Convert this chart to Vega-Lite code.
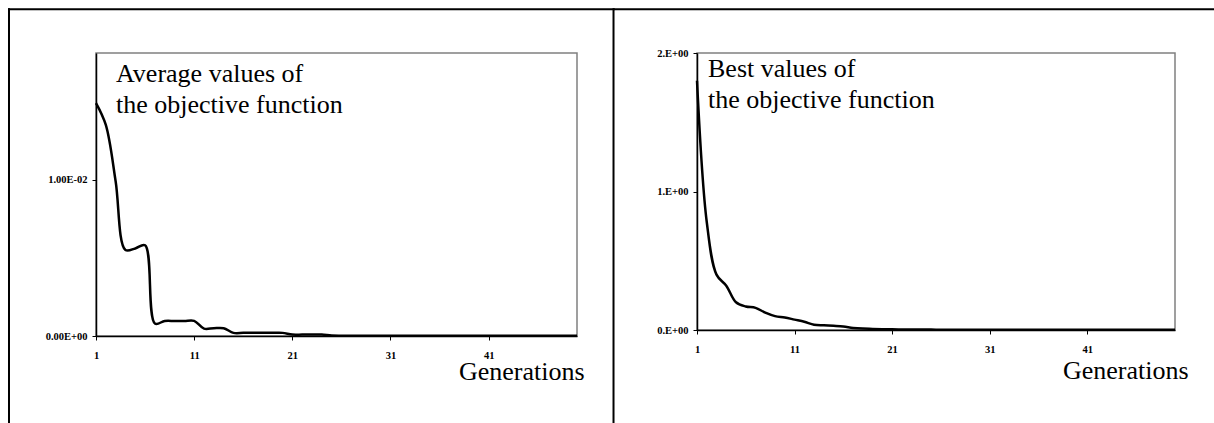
{
  "$schema": "https://vega.github.io/schema/vega-lite/v6.json",
  "padding": {"left": 6, "top": 7, "right": 0, "bottom": 0},
  "background": "white",
  "spacing": -5,
  "config": {
    "font": "Liberation Serif",
    "view": {"stroke": "#808080", "strokeWidth": 1.5},
    "text": {"font": "Liberation Serif"},
    "axis": {
      "labelFont": "Liberation Serif",
      "labelFontWeight": "bold",
      "labelFontSize": 10.5,
      "labelColor": "black",
      "titleFont": "Liberation Serif",
      "domainColor": "black",
      "domainWidth": 1.5,
      "tickColor": "black",
      "tickSize": 4,
      "grid": false,
      "labelPadding": 5
    }
  },
  "datasets": {
    "ga": [
      {"g": 1, "avg": 0.0149, "best": 1.80},
      {"g": 2, "avg": 0.0135, "best": 0.78},
      {"g": 3, "avg": 0.0099, "best": 0.40},
      {"g": 4, "avg": 0.0055, "best": 0.32},
      {"g": 5, "avg": 0.0056, "best": 0.20},
      {"g": 6, "avg": 0.0058, "best": 0.17},
      {"g": 7, "avg": 0.0008, "best": 0.16},
      {"g": 8, "avg": 0.00096, "best": 0.125},
      {"g": 9, "avg": 0.00096, "best": 0.10},
      {"g": 10, "avg": 0.00096, "best": 0.09},
      {"g": 11, "avg": 0.00097, "best": 0.075},
      {"g": 12, "avg": 0.00047, "best": 0.06},
      {"g": 13, "avg": 0.0005, "best": 0.038},
      {"g": 14, "avg": 0.0005, "best": 0.034},
      {"g": 15, "avg": 0.0002, "best": 0.03},
      {"g": 16, "avg": 0.0002, "best": 0.025},
      {"g": 17, "avg": 0.0002, "best": 0.015},
      {"g": 18, "avg": 0.0002, "best": 0.01},
      {"g": 19, "avg": 0.0002, "best": 0.008},
      {"g": 20, "avg": 0.0002, "best": 0.006},
      {"g": 21, "avg": 0.00009, "best": 0.005},
      {"g": 22, "avg": 0.00009, "best": 0.004},
      {"g": 23, "avg": 0.00009, "best": 0.004},
      {"g": 24, "avg": 0.00009, "best": 0.003},
      {"g": 25, "avg": 0.00003, "best": 0.003},
      {"g": 26, "avg": 0.00002, "best": 0.002},
      {"g": 27, "avg": 0.00002, "best": 0.002},
      {"g": 28, "avg": 0.00002, "best": 0.002},
      {"g": 29, "avg": 0.00002, "best": 0.002},
      {"g": 30, "avg": 0.00002, "best": 0.002},
      {"g": 31, "avg": 0.00002, "best": 0.002},
      {"g": 32, "avg": 0.00002, "best": 0.002},
      {"g": 33, "avg": 0.00002, "best": 0.002},
      {"g": 34, "avg": 0.00002, "best": 0.002},
      {"g": 35, "avg": 0.00002, "best": 0.002},
      {"g": 36, "avg": 0.00001, "best": 0.002},
      {"g": 37, "avg": 0.00001, "best": 0.002},
      {"g": 38, "avg": 0.00001, "best": 0.002},
      {"g": 39, "avg": 0.00001, "best": 0.002},
      {"g": 40, "avg": 0.00001, "best": 0.002},
      {"g": 41, "avg": 0.00001, "best": 0.001},
      {"g": 42, "avg": 0.00001, "best": 0.001},
      {"g": 43, "avg": 0.00001, "best": 0.001},
      {"g": 44, "avg": 0.00001, "best": 0.001},
      {"g": 45, "avg": 0.00001, "best": 0.001},
      {"g": 46, "avg": 0.00001, "best": 0.001},
      {"g": 47, "avg": 0.00001, "best": 0.001},
      {"g": 48, "avg": 0.00001, "best": 0.001},
      {"g": 49, "avg": 0.00001, "best": 0.001},
      {"g": 50, "avg": 0.00001, "best": 0.001}
    ]
  },
  "hconcat": [
    {
      "width": 481,
      "height": 283,
      "layer": [
        {
          "data": {"name": "ga"},
          "mark": {"type": "line", "interpolate": "catmull-rom", "color": "black", "strokeWidth": 2.5},
          "encoding": {
            "x": {
              "field": "g", "type": "quantitative",
              "scale": {"domain": [1, 50], "nice": false, "zero": false},
              "axis": {
                "values": [1, 11, 21, 31, 41],
                "labelFont": "Liberation Serif",
                "labelPadding": 10,
                "labelFlush": false,
                "labelOverlap": false,
                "title": "Generations",
                "titleFont": "Liberation Serif",
                "titleFontSize": 26,
                "titleFontWeight": "normal",
                "titleColor": "black",
                "titleAlign": "right",
                "titleBaseline": "alphabetic",
                "titleX": 488,
                "titleY": 43
              }
            },
            "y": {
              "field": "avg", "type": "quantitative",
              "scale": {"domain": [0, 0.0181], "nice": false},
              "axis": {
                "values": [0, 0.01],
                "labelFont": "Liberation Serif",
                "title": null,
                "labelExpr": "datum.value == 0 ? '0.00E+00' : '1.00E-02'"
              }
            }
          }
        },
        {
          "data": {"values": [{"label": "Average values of\nthe objective function"}]},
          "mark": {"type": "text", "font": "Liberation Serif", "fontSize": 26, "align": "left", "baseline": "alphabetic", "lineHeight": 31, "lineBreak": "\n", "color": "black"},
          "encoding": {
            "x": {"datum": 3.04},
            "y": {"datum": 0.01623},
            "text": {"field": "label"}
          }
        },
        {
          "data": {"values": [{}]},
          "mark": {"type": "rule", "color": "black", "strokeWidth": 2, "strokeCap": "square"},
          "encoding": {
            "x": {"datum": -7.863},
            "x2": {"datum": 53.72},
            "y": {"datum": 0.020895}
          }
        },
        {
          "data": {"values": [{}]},
          "mark": {"type": "rule", "color": "black", "strokeWidth": 2, "strokeCap": "square"},
          "encoding": {
            "x": {"datum": -7.863},
            "y": {"datum": 0.020895},
            "y2": {"datum": -0.01}
          }
        },
        {
          "data": {"values": [{}]},
          "mark": {"type": "rule", "color": "black", "strokeWidth": 2, "strokeCap": "square"},
          "encoding": {
            "x": {"datum": 53.72},
            "y": {"datum": 0.020895},
            "y2": {"datum": -0.01}
          }
        }
      ]
    },
    {
      "width": 478,
      "height": 277,
      "layer": [
        {
          "data": {"name": "ga"},
          "mark": {"type": "line", "interpolate": "catmull-rom", "color": "black", "strokeWidth": 2.5},
          "encoding": {
            "x": {
              "field": "g", "type": "quantitative",
              "scale": {"domain": [1, 50], "nice": false, "zero": false},
              "axis": {
                "values": [1, 11, 21, 31, 41],
                "labelFont": "Liberation Serif",
                "labelPadding": 10,
                "labelFlush": false,
                "labelOverlap": false,
                "title": "Generations",
                "titleFont": "Liberation Serif",
                "titleFontSize": 26,
                "titleFontWeight": "normal",
                "titleColor": "black",
                "titleAlign": "right",
                "titleBaseline": "alphabetic",
                "titleX": 491,
                "titleY": 48.5
              }
            },
            "y": {
              "field": "best", "type": "quantitative",
              "scale": {"domain": [0, 2], "nice": false},
              "axis": {
                "values": [0, 1, 2],
                "labelFont": "Liberation Serif",
                "title": null,
                "labelExpr": "datum.value + '.E+00'"
              }
            }
          }
        },
        {
          "data": {"values": [{"label": "Best values of\nthe objective function"}]},
          "mark": {"type": "text", "font": "Liberation Serif", "fontSize": 26, "align": "left", "baseline": "alphabetic", "lineHeight": 31, "lineBreak": "\n", "color": "black"},
          "encoding": {
            "x": {"datum": 2.13},
            "y": {"datum": 1.827},
            "text": {"field": "label"}
          }
        },
        {
          "data": {"values": [{}]},
          "mark": {"type": "rule", "color": "black", "strokeWidth": 2, "strokeCap": "butt"},
          "encoding": {
            "x": {"datum": -7.56},
            "x2": {"datum": 56},
            "y": {"datum": 2.3155}
          }
        }
      ]
    }
  ]
}
